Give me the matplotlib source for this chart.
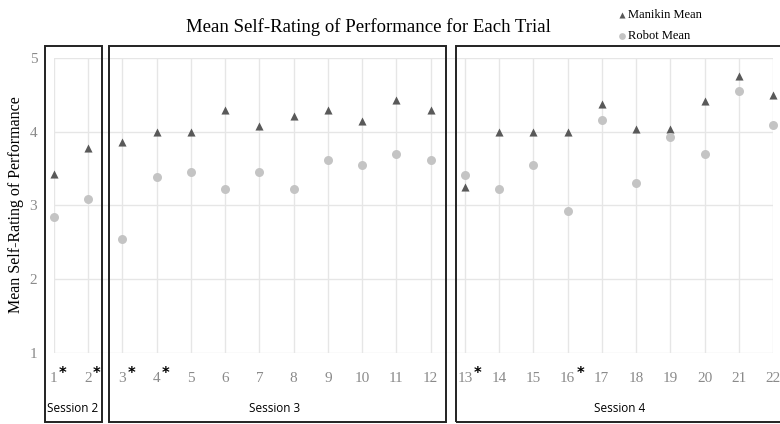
import matplotlib
matplotlib.use("Agg")
import matplotlib.pyplot as plt
from matplotlib.patches import Rectangle

trials = list(range(1, 23))
manikin_mean = [3.43, 3.78, 3.86, 4.00, 4.00, 4.29, 4.08, 4.22, 4.29, 4.14, 4.43,
                4.29, 3.25, 4.00, 4.00, 4.00, 4.38, 4.04, 4.04, 4.42, 4.75, 4.50]
robot_mean = [2.85, 3.09, 2.54, 3.39, 3.46, 3.23, 3.46, 3.23, 3.62, 3.55, 3.70,
              3.62, 3.42, 3.23, 3.55, 2.93, 4.16, 3.31, 3.93, 3.70, 4.55, 4.09]
star_trials = [1, 2, 3, 4, 13, 16]
sessions = ["Session 2", "Session 3", "Session 4"]

serif = "Liberation Serif"

fig = plt.figure(figsize=(7.8, 4.24), dpi=100)
ax = fig.add_axes([0.0692, 0.1675, 0.9218, 0.6957])

ax.scatter(trials, manikin_mean, marker="^", s=34, color="#595959", zorder=3,
           clip_on=False, linewidths=0, label="Manikin Mean")
ax.scatter(trials, robot_mean, marker="o", s=42, color="#c4c4c4", zorder=3,
           clip_on=False, linewidths=0, label="Robot Mean")

ax.set_xlim(1, 22)
ax.set_ylim(1, 5)
ax.set_xticks(trials)
ax.set_xticklabels([str(t) for t in trials], fontfamily=serif, fontsize=11, color="#8a8a8a")
ax.set_yticks([1, 2, 3, 4, 5])
ax.set_yticklabels(["1", "2", "3", "4", "5"], fontfamily=serif, fontsize=11, color="#8a8a8a")
ax.tick_params(axis="x", length=0, pad=14)
ax.tick_params(axis="y", length=0, pad=12)
ax.grid(True, color="#e6e6e6", linewidth=1)
for s in ax.spines.values():
    s.set_visible(False)

# asterisks next to some trial labels (small, superscript-like, black)
for t in star_trials:
    dx = 3.5 if t < 10 else 6.5
    ax.annotate("*", xy=(t, 1), xycoords="data", xytext=(dx, -14.5),
                textcoords="offset points", fontsize=10.5, color="black",
                fontweight="bold", ha="left", va="center", annotation_clip=False)

fig.text(16 / 780, 1 - 205 / 424, "Mean Self-Rating of Performance", fontfamily=serif,
         fontsize=11.5, rotation=90, ha="center", va="center")

fig.text(0.472, 0.936, "Mean Self-Rating of Performance for Each Trial",
         fontfamily=serif, fontsize=13.5, ha="center", va="center")

leg = ax.legend(loc="upper left", bbox_to_anchor=(0.764, 1.205), frameon=False,
                prop={"family": serif, "size": 9}, handletextpad=-0.1,
                labelspacing=0.75, handlelength=1.2, markerscale=0.75)

# session boxes (figure coords)
boxes = [(45, 102), (109, 446), (456, 782)]
label_x = [73, 275, 620]
for (x0, x1), name, lx in zip(boxes, sessions, label_x):
    fig.patches.append(Rectangle((x0 / 780, 2 / 424), (x1 - x0) / 780, (378 - 2) / 424,
                                 transform=fig.transFigure, fill=False,
                                 edgecolor="#222222", linewidth=1.4))
    fig.text(lx / 780, 1 - 408 / 424, name, fontsize=8.5, ha="center", va="center",
             fontfamily="Open Sans")

fig.savefig("out.png", dpi=100)
